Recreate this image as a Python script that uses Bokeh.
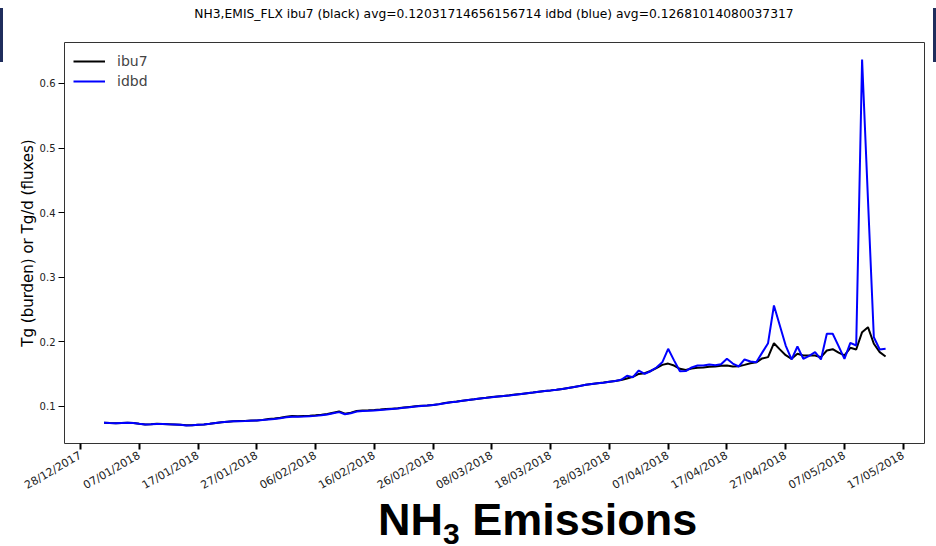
import math
import pandas as pd
from bokeh.plotting import figure
from bokeh.layouts import column, row
from bokeh.models import (DatetimeTickFormatter, FixedTicker, Range1d,
                          Legend, LegendItem, Div)
from bokeh.embed import file_html
from bokeh.resources import INLINE

# Daily series, 1 Jan 2018 .. 14 May 2018
dates = pd.date_range("2018-01-01", "2018-05-14", freq="D")

# x ticks every 10 days from 28/12/2017
tick_dates = pd.date_range("2017-12-28", periods=15, freq="10D")
y_ticks = [0.1, 0.2, 0.3, 0.4, 0.5, 0.6]

title_text = ("NH3,EMIS_FLX ibu7 (black) avg=0.12031714656156714 "
              "idbd (blue) avg=0.12681014080037317")
y_label = "Tg (burden) or Tg/d (fluxes)"

ibu7 = [
    0.0743, 0.0739, 0.0737, 0.0740, 0.0744, 0.0739, 0.0728, 0.0718, 0.0722, 0.0727,
    0.0724, 0.0720, 0.0716, 0.0712, 0.0703, 0.0706, 0.0712, 0.0718, 0.0728, 0.0741,
    0.0752, 0.0760, 0.0768, 0.0770, 0.0772, 0.0777, 0.0780, 0.0788, 0.0800, 0.0810,
    0.0822, 0.0836, 0.0847, 0.0846, 0.0850, 0.0853, 0.0858, 0.0868, 0.0880, 0.0900,
    0.0920, 0.0884, 0.0900, 0.0925, 0.0935, 0.0937, 0.0942, 0.0948, 0.0955, 0.0962,
    0.0968, 0.0978, 0.0988, 0.0998, 0.1005, 0.1012, 0.1020, 0.1032, 0.1048, 0.1062,
    0.1072, 0.1085, 0.1097, 0.1108, 0.1120, 0.1130, 0.1141, 0.1150, 0.1158, 0.1168,
    0.1180, 0.1190, 0.1202, 0.1212, 0.1224, 0.1235, 0.1245, 0.1256, 0.1268, 0.1283,
    0.1298, 0.1315, 0.1332, 0.1345, 0.1356, 0.1366, 0.1380, 0.1392, 0.1405, 0.1430,
    0.1455, 0.1500, 0.1510, 0.1545, 0.1590, 0.1640, 0.1660, 0.1630, 0.1580, 0.1560,
    0.1585, 0.1595, 0.1600, 0.1610, 0.1615, 0.1625, 0.1630, 0.1615, 0.1620, 0.1640,
    0.1666, 0.1680, 0.1740, 0.1760, 0.1976, 0.1880, 0.1790, 0.1734, 0.1812, 0.1786,
    0.1786, 0.1786, 0.1759, 0.1863, 0.1883, 0.1830, 0.1786, 0.1905, 0.1879, 0.2147,
    0.2224, 0.1967, 0.1837, 0.1770,
]

idbd = [
    0.0742, 0.0738, 0.0737, 0.0741, 0.0743, 0.0738, 0.0727, 0.0717, 0.0721, 0.0726,
    0.0723, 0.0719, 0.0716, 0.0711, 0.0702, 0.0705, 0.0711, 0.0717, 0.0727, 0.0740,
    0.0751, 0.0759, 0.0766, 0.0768, 0.0770, 0.0775, 0.0778, 0.0785, 0.0793, 0.0802,
    0.0814, 0.0827, 0.0838, 0.0838, 0.0841, 0.0845, 0.0850, 0.0860, 0.0872, 0.0890,
    0.0908, 0.0876, 0.0892, 0.0916, 0.0926, 0.0928, 0.0933, 0.0940, 0.0948, 0.0957,
    0.0965, 0.0975, 0.0985, 0.0995, 0.1003, 0.1010, 0.1018, 0.1030, 0.1046, 0.1060,
    0.1070, 0.1083, 0.1095, 0.1106, 0.1118, 0.1129, 0.1140, 0.1149, 0.1157, 0.1167,
    0.1179, 0.1189, 0.1201, 0.1211, 0.1223, 0.1234, 0.1244, 0.1255, 0.1267, 0.1282,
    0.1297, 0.1314, 0.1331, 0.1344, 0.1355, 0.1365, 0.1379, 0.1391, 0.1410, 0.1471,
    0.1449, 0.1553, 0.1502, 0.1542, 0.1600, 0.1680, 0.1889, 0.1710, 0.1542, 0.1545,
    0.1600, 0.1631, 0.1630, 0.1646, 0.1635, 0.1650, 0.1734, 0.1660, 0.1615, 0.1724,
    0.1693, 0.1682, 0.1830, 0.1976, 0.2560, 0.2250, 0.1940, 0.1724, 0.1925, 0.1734,
    0.1780, 0.1837, 0.1724, 0.2122, 0.2122, 0.1930, 0.1734, 0.1982, 0.1940, 0.6372,
    0.4200, 0.2069, 0.1879, 0.1889,
]

FONT = "DejaVu Sans"
BAR = "#1f2d5c"
TOP_H, FIG_H, BOT_H = 30, 470, 46
SIDE_W, FIG_W = 3, 930

x_start = tick_dates[0] - pd.Timedelta(days=2.72)
x_end = tick_dates[-1] + pd.Timedelta(days=3.62)

p = figure(width=FIG_W, height=FIG_H, x_axis_type="datetime",
           output_backend="svg", toolbar_location=None,
           x_range=Range1d(x_start, x_end), y_range=Range1d(0.0422, 0.6635),
           min_border_left=61, min_border_right=9,
           min_border_top=12, min_border_bottom=57, margin=0)

p.background_fill_color = "white"
p.border_fill_color = "white"
p.outline_line_color = "#333333"
p.outline_line_width = 1
p.xgrid.visible = False
p.ygrid.visible = False

r_black = p.line(dates, ibu7, line_color="black", line_width=2)
r_blue = p.line(dates, idbd, line_color="#0000ff", line_width=2)

# axes
p.xaxis.ticker = FixedTicker(ticks=[t.timestamp() * 1000 for t in tick_dates])
fmt = "%d/%m/%Y"
p.xaxis.formatter = DatetimeTickFormatter(
    milliseconds=fmt, seconds=fmt, minsec=fmt, minutes=fmt, hourmin=fmt,
    hours=fmt, days=fmt, months=fmt, years=fmt)
p.xaxis.major_label_orientation = math.pi / 6
p.yaxis.ticker = FixedTicker(ticks=y_ticks)
p.yaxis.axis_label = y_label

for ax in (p.xaxis, p.yaxis):
    ax.axis_line_color = None
    ax.minor_tick_line_color = None
    ax.major_tick_in = 0
    ax.major_tick_out = 6
    ax.major_tick_line_color = "black"
    ax.major_label_text_font = FONT
    ax.major_label_text_color = "#222222"
p.xaxis.major_label_text_font_size = "11px"
p.yaxis.major_label_text_font_size = "10px"
p.xaxis.major_label_standoff = 5
p.yaxis.major_label_standoff = 3
p.xaxis.major_tick_line_width = 2
p.yaxis.major_tick_line_width = 1
p.yaxis.axis_label_text_font = FONT
p.yaxis.axis_label_text_font_size = "15px"
p.yaxis.axis_label_text_font_style = "normal"
p.yaxis.axis_label_text_color = "black"
p.yaxis.axis_label_standoff = 0

legend = Legend(items=[LegendItem(label="ibu7", renderers=[r_black]),
                       LegendItem(label="idbd", renderers=[r_blue])],
                location=(9, 352))
legend.border_line_color = None
legend.background_fill_alpha = 0
legend.label_text_font = FONT
legend.label_text_font_size = "14px"
legend.glyph_width = 32
legend.glyph_height = 20
legend.label_height = 20
legend.spacing = 0
legend.padding = 3
legend.margin = 0
legend.label_standoff = 12
p.add_layout(legend)

# title strip above the plot, with the dark page-edge markers
top_html = (
    f'<div style="position:relative;width:936px;height:{TOP_H}px;">'
    f'<div style="position:absolute;left:0;top:8px;width:3px;height:{TOP_H - 8}px;background:{BAR}"></div>'
    f'<div style="position:absolute;left:933px;top:8px;width:3px;height:{TOP_H - 8}px;background:{BAR}"></div>'
    f'<div style="position:absolute;left:94px;top:7px;width:800px;text-align:center;'
    f'font-family:\'{FONT}\';font-size:12.3px;line-height:15px;color:#000;white-space:nowrap">'
    f'{title_text}</div></div>'
)
top_div = Div(text=top_html, width=936, height=TOP_H, margin=0)

side_html = f'<div style="width:3px;height:32px;background:{BAR}"></div>'
left_div = Div(text=side_html, width=SIDE_W, height=FIG_H, margin=0)
right_div = Div(text=side_html, width=SIDE_W, height=FIG_H, margin=0)

# caption below the plot
cap_html = (
    f'<div style="position:relative;width:936px;height:{BOT_H}px;">'
    '<span style="position:absolute;left:378px;top:-3px;font-family:\'Liberation Sans\';'
    'font-weight:bold;font-size:45px;line-height:45px;color:#000;white-space:nowrap">'
    'NH<span style="font-size:30px;position:relative;top:9px">3</span> Emissions'
    '</span></div>'
)
bot_div = Div(text=cap_html, width=936, height=BOT_H, margin=0)

layout = column(top_div, row(left_div, p, right_div, spacing=0, margin=0),
                bot_div, spacing=0, margin=0)

open("out.html", "w").write(file_html(layout, INLINE))
